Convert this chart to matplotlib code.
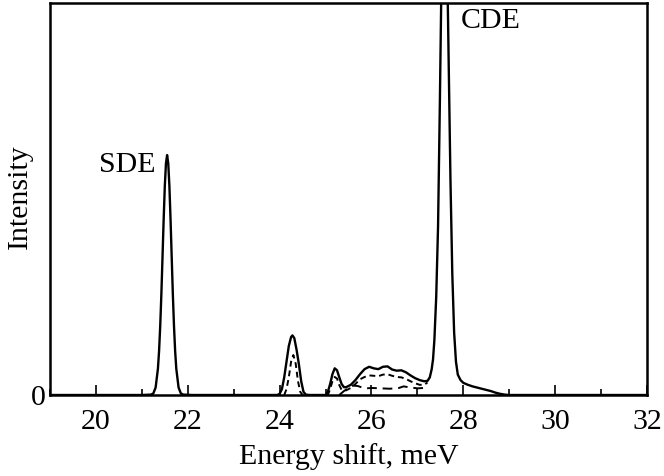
import matplotlib.pyplot as plt

# Datos (intensidad en unidades arbitrarias, 100 = borde superior)
x_solid = [19.0, 21.0, 21.2, 21.25, 21.3, 21.35, 21.375, 21.4, 21.425, 21.45,
           21.475, 21.5, 21.525, 21.55, 21.575, 21.6, 21.625, 21.65, 21.675,
           21.7, 21.725, 21.75, 21.8, 21.85, 21.9, 22.1,
           23.95, 24.0, 24.05, 24.1, 24.15, 24.2, 24.25, 24.28, 24.32, 24.37,
           24.42, 24.47, 24.52, 24.57, 24.65,
           25.0, 25.05, 25.1, 25.15, 25.2, 25.25, 25.3, 25.35, 25.4, 25.45,
           25.55, 25.65, 25.75, 25.85, 25.95, 26.05, 26.15, 26.25, 26.35, 26.45,
           26.55, 26.65, 26.75, 26.85, 26.95, 27.05, 27.15, 27.22,
           27.27, 27.31, 27.34, 27.37, 27.41, 27.45, 27.49, 27.53, 27.565,
           27.60, 27.64, 27.68, 27.72, 27.76, 27.80, 27.84, 27.88, 27.94,
           28.0, 28.1, 28.2, 28.3, 28.4, 28.5, 28.6, 28.7, 28.8, 28.9, 29.0, 32.0]
y_solid = [0.0, 0.0, 0.1, 0.4, 1.9, 6.7, 11.2, 17.6, 25.7, 35.2,
           44.8, 53.3, 59.1, 61.2, 59.1, 53.3, 44.8, 35.2, 25.7,
           17.6, 11.2, 6.7, 1.9, 0.4, 0.1, 0.0,
           0.0, 0.3, 1.5, 4.5, 8.5, 12.5, 14.8, 15.2, 14.5, 11.5,
           7.8, 3.5, 0.8, 0.1, 0.0,
           0.0, 0.8, 2.8, 5.3, 6.8, 6.3, 4.5, 2.8, 2.0, 2.0,
           2.6, 3.8, 5.3, 6.6, 7.2, 6.8, 6.6, 7.2, 7.3, 6.5,
           6.2, 6.3, 5.8, 5.0, 4.3, 3.8, 3.5, 3.6,
           4.5, 6.5, 9.0, 14.0, 25.0, 43.0, 75.0, 111.0, 148.0,
           141.0, 117.0, 86.0, 55.0, 31.0, 16.0, 8.5, 5.2, 3.8,
           3.1, 2.6, 2.2, 1.9, 1.6, 1.3, 1.0, 0.6, 0.3, 0.1, 0.0, 0.0]

x_dash = [24.1, 24.15, 24.2, 24.25, 24.3, 24.35, 24.4, 24.45, 24.5,
          25.05, 25.1, 25.15, 25.2, 25.25, 25.3, 25.35, 25.45, 25.55, 25.65,
          25.75, 25.85, 25.95, 26.05, 26.15, 26.25, 26.35, 26.45, 26.55,
          26.65, 26.75, 26.85, 26.95, 27.05, 27.15, 27.22]
y_dash = [0.0, 1.5, 4.5, 8.5, 10.2, 8.0, 3.5, 0.8, 0.0,
          0.0, 1.5, 3.5, 4.6, 4.2, 2.5, 1.3, 1.2, 1.8, 2.8,
          4.0, 4.6, 5.0, 4.9, 4.8, 5.2, 5.3, 4.9, 4.6,
          4.5, 4.1, 3.5, 3.0, 2.6, 2.6, 3.2]

x_low = [25.3, 25.4, 25.5, 25.6, 25.7, 25.8, 25.9, 26.0, 26.2, 26.4, 26.6,
         26.7, 26.8, 27.0, 27.15, 27.22]
y_low = [0.0, 1.0, 1.8, 2.4, 2.3, 1.9, 1.7, 1.8, 1.7, 1.6, 1.8,
         2.2, 2.0, 1.7, 1.8, 2.5]

x_ticks = [20, 22, 24, 26, 28, 30, 32]

plt.rcParams['font.family'] = ['Liberation Serif', 'DejaVu Serif']

fig = plt.figure(figsize=(6.64, 4.76), dpi=100)
ax = fig.add_axes([50 / 664, 81 / 476, 597 / 664, 392 / 476])

ax.plot(x_solid, y_solid, color='black', lw=1.7)
ax.plot(x_dash, y_dash, color='black', lw=1.4, linestyle=(0, (3, 2)))
ax.plot(x_low, y_low, color='black', lw=1.4, linestyle=(0, (5, 3)))

ax.set_xlim(19, 32)
ax.set_ylim(0, 100)
ax.set_xticks(x_ticks)
ax.set_xticks(range(19, 32, 2), minor=True)
ax.set_yticks([0])
ax.tick_params(axis='x', which='major', direction='in', length=7, width=1.2,
               labelsize=21.5, pad=10)
ax.tick_params(axis='x', which='minor', direction='in', length=4.5, width=1.2)
ax.tick_params(axis='y', length=0, labelsize=21.5, pad=3)
for sp in ax.spines.values():
    sp.set_linewidth(1.8)

ax.set_xlabel('Energy shift, meV', fontsize=21.5, labelpad=6)
ax.set_ylabel('Intensity', fontsize=21.5)
ax.yaxis.set_label_coords(-0.028, 0.505)

ax.text(20.68, 58.7, 'SDE', fontsize=21.5, ha='center', va='center')
ax.text(28.6, 95.5, 'CDE', fontsize=21.5, ha='center', va='center')

fig.savefig('out.png', dpi=100)
